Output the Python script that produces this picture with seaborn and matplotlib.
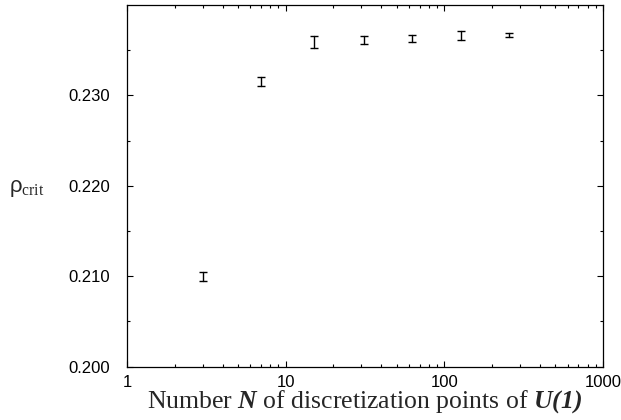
import numpy as np
import pandas as pd
import matplotlib
matplotlib.use("Agg")
import matplotlib.pyplot as plt
import seaborn as sns
from matplotlib.ticker import FixedLocator, NullFormatter, FixedFormatter

# Data
n_points = [3, 7, 15, 31, 63, 127, 255]
rho_crit = [0.2100, 0.2315, 0.2359, 0.2361, 0.2363, 0.2366, 0.2367]
rho_err = [0.0005, 0.0005, 0.0007, 0.00043, 0.00037, 0.00048, 0.0002]
x_ticks = [1, 10, 100, 1000]
x_tick_labels = ["1", "10", "100", "1000"]
y_ticks = [0.200, 0.210, 0.220, 0.230]
y_tick_labels = ["0.200", "0.210", "0.220", "0.230"]

sns.set_style("ticks")
plt.rcParams["font.family"] = ["Liberation Sans", "DejaVu Sans"]
plt.rcParams["mathtext.fontset"] = "custom"
plt.rcParams["mathtext.rm"] = "Liberation Serif"
plt.rcParams["mathtext.it"] = "Liberation Serif:italic"
plt.rcParams["mathtext.bf"] = "Liberation Serif:bold"
plt.rcParams["mathtext.bfit"] = "Liberation Serif:bold:italic"

# lower/upper ends of each error bar; mean is the centre, range is the bar
rows = []
for x, y, e in zip(n_points, rho_crit, rho_err):
    rows.append({"N": x, "rho": y - e})
    rows.append({"N": x, "rho": y + e})
df = pd.DataFrame(rows)

fig = plt.figure(figsize=(6.21, 4.20), dpi=100)
ax = fig.add_axes([0.2045, 0.127, 0.7665, 0.861])

sns.lineplot(data=df, x="N", y="rho", estimator="mean", errorbar=("pi", 100),
             err_style="bars", linestyle="none", marker=None, color="black",
             err_kws={"capsize": 3, "elinewidth": 1.0, "capthick": 1.0},
             ax=ax)

ax.set_xscale("log")
ax.set_xlim(1, 1000)
ax.set_ylim(0.200, 0.240)

ax.xaxis.set_major_locator(FixedLocator(x_ticks))
ax.xaxis.set_major_formatter(FixedFormatter(x_tick_labels))
minor_x = [m * 10**d for d in range(0, 3) for m in range(2, 10)]
ax.xaxis.set_minor_locator(FixedLocator(minor_x))
ax.xaxis.set_minor_formatter(NullFormatter())

ax.yaxis.set_major_locator(FixedLocator(y_ticks))
ax.yaxis.set_major_formatter(FixedFormatter(y_tick_labels))
ax.yaxis.set_minor_locator(FixedLocator([0.205, 0.215, 0.225, 0.235]))

ax.tick_params(which="both", direction="in", top=True, right=True,
               labelsize=12, width=0.8, colors="black")
ax.tick_params(which="major", length=4.5)
ax.tick_params(which="minor", length=2.5)
ax.tick_params(axis="y", which="major", pad=12)
ax.tick_params(axis="x", which="major", pad=6)
for s in ax.spines.values():
    s.set_visible(True)
    s.set_linewidth(0.9)
    s.set_color("black")

ax.set_xlabel(r"Number $\mathbfit{N}$ of discretization points of $\mathbfit{U(1)}$",
              fontsize=18.5, family="Liberation Serif", labelpad=-1)
ax.set_ylabel("ρ" + r"$_{\mathrm{crit}}$", fontsize=16, rotation=0,
              family=["Liberation Sans", "DejaVu Sans"])
ax.yaxis.set_label_coords(-0.211, 0.465)

fig.savefig("out.png", dpi=100)
